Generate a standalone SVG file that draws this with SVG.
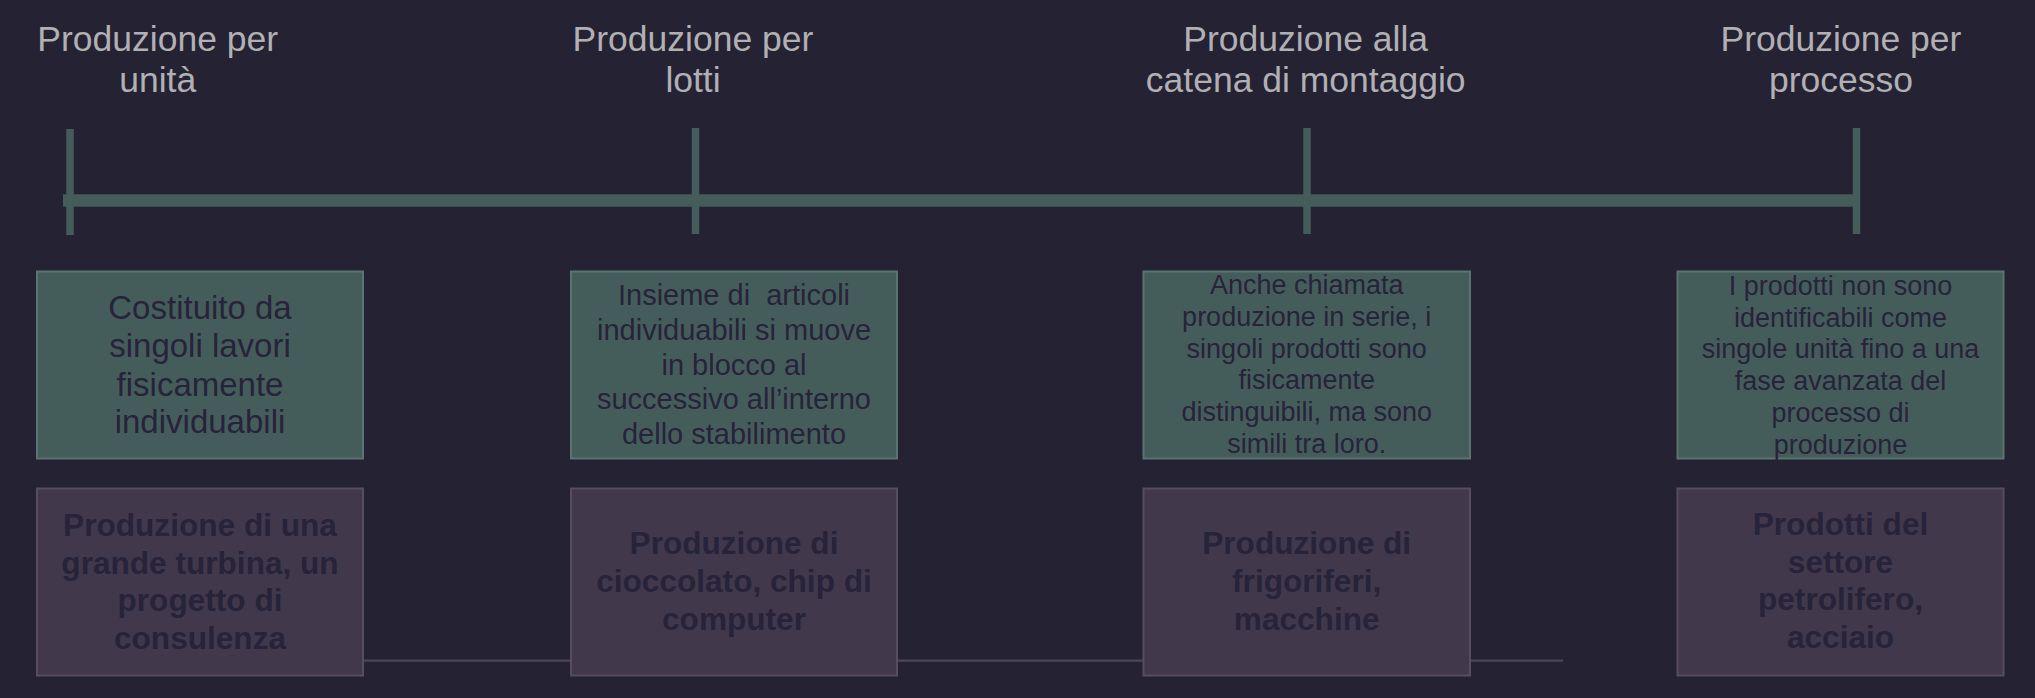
<svg xmlns="http://www.w3.org/2000/svg" width="2035" height="698" viewBox="0 0 2035 698">
<style>
.title{font-family:"Liberation Sans",Arial,sans-serif;font-size:35.5px;fill:#b1b0b4;text-anchor:middle}
.desc{font-family:"Liberation Sans",Arial,sans-serif;fill:#27233a;text-anchor:middle}
.ex{font-family:"Liberation Sans",Arial,sans-serif;font-weight:bold;font-size:31.6px;fill:#27233a;text-anchor:middle}
.gbox{fill:#455d5a;stroke:#5b7471;stroke-width:2}
.pbox{fill:#41394b;stroke:#574d61;stroke-width:2}
.tick{stroke:#455d5a;stroke-width:7.5}
</style>
<rect x="0" y="0" width="2035" height="698" fill="#252233"/>
<g id="connectors">
  <line x1="364" y1="660.7" x2="1563" y2="660.7" stroke="#4d4659" stroke-width="2.2"/>
  <rect x="63" y="194.3" width="1794" height="12.4" fill="#455d5a"/>
  <line class="tick" x1="70" y1="129" x2="70" y2="235"/>
  <line class="tick" x1="695.5" y1="128" x2="695.5" y2="234"/>
  <line class="tick" x1="1307" y1="128" x2="1307" y2="234"/>
  <line class="tick" x1="1856.5" y1="128" x2="1856.5" y2="234"/>
</g>
<g id="title-unita">
  <text class="title" x="157.7" y="51">Produzione per</text>
  <text class="title" x="157.7" y="91.5">unità</text>
</g>
<g id="title-lotti">
  <text class="title" x="693" y="51">Produzione per</text>
  <text class="title" x="693" y="91.5">lotti</text>
</g>
<g id="title-catena">
  <text class="title" x="1305.7" y="51">Produzione alla</text>
  <text class="title" x="1305.7" y="91.5">catena di montaggio</text>
</g>
<g id="title-processo">
  <text class="title" x="1841" y="51">Produzione per</text>
  <text class="title" x="1841" y="91.5">processo</text>
</g>
<g id="desc-unita">
  <rect class="gbox" x="37" y="271.5" width="326" height="187"/>
  <text class="desc" font-size="33" x="200" y="319.3">Costituito da</text>
  <text class="desc" font-size="33" x="200" y="357.3">singoli lavori</text>
  <text class="desc" font-size="33" x="200" y="395.5">fisicamente</text>
  <text class="desc" font-size="33" x="200" y="433.3">individuabili</text>
</g>
<g id="desc-lotti">
  <rect class="gbox" x="571" y="271.5" width="326" height="187"/>
  <text class="desc" font-size="29" x="734" y="305" xml:space="preserve">Insieme di  articoli</text>
  <text class="desc" font-size="29" x="734" y="339.8">individuabili si muove</text>
  <text class="desc" font-size="29" x="734" y="374.6">in blocco al</text>
  <text class="desc" font-size="29" x="734" y="409.4">successivo all’interno</text>
  <text class="desc" font-size="29" x="734" y="444.2">dello stabilimento</text>
</g>
<g id="desc-catena">
  <rect class="gbox" x="1143.5" y="271.5" width="326.5" height="187"/>
  <text class="desc" font-size="27" x="1306.7" y="294.3">Anche chiamata</text>
  <text class="desc" font-size="27" x="1306.7" y="326">produzione in serie, i</text>
  <text class="desc" font-size="27" x="1306.7" y="357.7">singoli prodotti sono</text>
  <text class="desc" font-size="27" x="1306.7" y="389.4">fisicamente</text>
  <text class="desc" font-size="27" x="1306.7" y="421">distinguibili, ma sono</text>
  <text class="desc" font-size="27" x="1306.7" y="452.7">simili tra loro.</text>
</g>
<g id="desc-processo">
  <rect class="gbox" x="1677.5" y="271.5" width="326" height="187"/>
  <text class="desc" font-size="27" x="1840.5" y="295">I prodotti non sono</text>
  <text class="desc" font-size="27" x="1840.5" y="326.7">identificabili come</text>
  <text class="desc" font-size="27" x="1840.5" y="358.4">singole unità fino a una</text>
  <text class="desc" font-size="27" x="1840.5" y="390">fase avanzata del</text>
  <text class="desc" font-size="27" x="1840.5" y="421.8">processo di</text>
  <text class="desc" font-size="27" x="1840.5" y="453.5">produzione</text>
</g>
<g id="ex-unita">
  <rect class="pbox" x="37" y="488.5" width="326" height="187"/>
  <text class="ex" x="200" y="536">Produzione di una</text>
  <text class="ex" x="200" y="573.7">grande turbina, un</text>
  <text class="ex" x="200" y="611.4">progetto di</text>
  <text class="ex" x="200" y="649.1">consulenza</text>
</g>
<g id="ex-lotti">
  <rect class="pbox" x="571" y="488.5" width="326" height="187"/>
  <text class="ex" x="734" y="554">Produzione di</text>
  <text class="ex" x="734" y="592">cioccolato, chip di</text>
  <text class="ex" x="734" y="630">computer</text>
</g>
<g id="ex-catena">
  <rect class="pbox" x="1143.5" y="488.5" width="326.5" height="187"/>
  <text class="ex" x="1306.7" y="554">Produzione di</text>
  <text class="ex" x="1306.7" y="592">frigoriferi,</text>
  <text class="ex" x="1306.7" y="630">macchine</text>
</g>
<g id="ex-processo">
  <rect class="pbox" x="1677.5" y="488.5" width="326" height="187"/>
  <text class="ex" x="1840.5" y="535">Prodotti del</text>
  <text class="ex" x="1840.5" y="572.7">settore</text>
  <text class="ex" x="1840.5" y="610.4">petrolifero,</text>
  <text class="ex" x="1840.5" y="648.1">acciaio</text>
</g>
</svg>
